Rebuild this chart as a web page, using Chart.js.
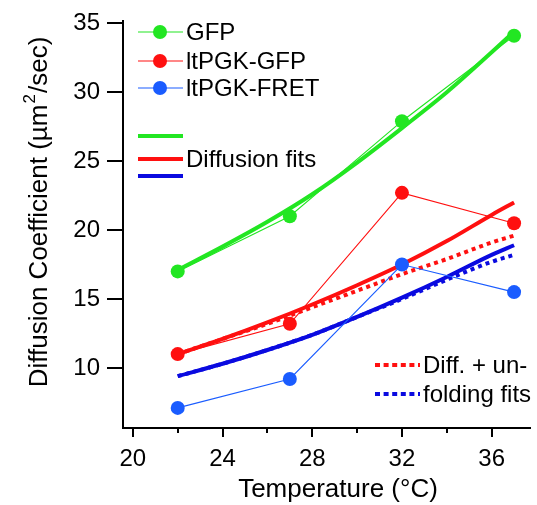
<!DOCTYPE html>
<html lang="en">
<head>
    <meta charset="UTF-8">
    <title>Diffusion coefficient vs temperature</title>
    <script src="https://cdn.jsdelivr.net/npm/chart.js"></script>
    <style>
        body { margin: 0; background: #fff; }
        canvas { display: block; }
    </style>
</head>
<body>
    <canvas id="diffChart" width="537" height="505"></canvas>

    <script>
        // measured points
        const temps = [22, 27, 32, 37];
        const gfp = [17.0, 21.0, 27.9, 34.1];
        const pgkGfp = [11.0, 13.2, 22.7, 20.5];
        const pgkFret = [7.1, 9.2, 17.5, 15.5];

        // fit curves
        const fitTemps = [22, 24, 26, 28, 30, 32, 34, 36, 37];
        const gfpFit = [17.1, 18.8, 20.6, 22.6, 24.9, 27.4, 30.0, 32.9, 34.4];
        const pgkGfpFit = [11.0, 12.1, 13.3, 14.6, 16.0, 17.5, 19.2, 21.1, 22.0];
        const pgkFretFit = [9.4, 10.3, 11.3, 12.4, 13.7, 15.1, 16.6, 18.2, 18.9];
        const pgkGfpUnfold = [11.0, 12.1, 13.2, 14.4, 15.6, 16.8, 17.9, 19.1, 19.6];
        const pgkFretUnfold = [9.4, 10.3, 11.3, 12.4, 13.7, 15.0, 16.4, 17.7, 18.2];

        const xTicks = [20, 24, 28, 32, 36];
        const xMinorTicks = [22, 26, 30, 34];
        const yTicks = [10, 15, 20, 25, 30, 35];

        const GREEN = '#22e622';
        const RED = '#ff1010';
        const BLUE_PT = '#1a5cff';
        const BLUE_FIT = '#0a0ae0';
        const FONT = '"Liberation Sans", Arial, sans-serif';

        function pts(xs, ys) {
            return xs.map((x, i) => ({ x: x, y: ys[i] }));
        }

        function dataSet(label, ys, color) {
            return {
                label: label,
                data: pts(temps, ys),
                borderColor: color,
                backgroundColor: color,
                borderWidth: 1.1,
                pointRadius: 7,
                pointBorderWidth: 0,
                order: 0
            };
        }

        function fitSet(label, ys, color, dashed) {
            return {
                label: label,
                data: pts(fitTemps, ys),
                borderColor: color,
                borderWidth: 4,
                borderDash: dashed ? [4, 4] : [],
                pointRadius: 0,
                cubicInterpolationMode: 'monotone',
                order: dashed ? 1 : 2
            };
        }

        // extra drawing: minor ticks, axis titles, legends
        const decorations = {
            id: 'decorations',
            afterDraw(chart) {
                const ctx = chart.ctx;
                const x = chart.scales.x;
                const area = chart.chartArea;
                ctx.save();

                // minor x ticks
                ctx.strokeStyle = '#000';
                ctx.lineWidth = 2;
                xMinorTicks.forEach(v => {
                    const px = Math.round(x.getPixelForValue(v));
                    ctx.beginPath();
                    ctx.moveTo(px, area.bottom);
                    ctx.lineTo(px, area.bottom + 5);
                    ctx.stroke();
                });

                // x title
                ctx.fillStyle = '#000';
                ctx.font = '26px ' + FONT;
                ctx.textAlign = 'center';
                ctx.textBaseline = 'alphabetic';
                ctx.fillText('Temperature (°C)', 338, 497);

                // y title with superscript
                ctx.translate(47, 212);
                ctx.rotate(-Math.PI / 2);
                const p1 = 'Diffusion Coefficient (µm';
                const p3 = '/sec)';
                ctx.font = '26px ' + FONT;
                const w1 = ctx.measureText(p1).width;
                const w3 = ctx.measureText(p3).width;
                ctx.font = '17px ' + FONT;
                const w2 = ctx.measureText('2').width;
                let sx = -(w1 + w2 + w3 + 2) / 2;
                ctx.textAlign = 'left';
                ctx.font = '26px ' + FONT;
                ctx.fillText(p1, sx, 0);
                sx += w1 + 1;
                ctx.font = '17px ' + FONT;
                ctx.fillText('2', sx, -12);
                sx += w2 + 1;
                ctx.font = '26px ' + FONT;
                ctx.fillText(p3, sx, 0);
                ctx.restore();

                ctx.save();
                ctx.textAlign = 'left';
                ctx.textBaseline = 'middle';
                ctx.font = '24px ' + FONT;
                ctx.fillStyle = '#000';

                // data legend
                [['GFP', GREEN, 32], ['ltPGK-GFP', RED, 61], ['ltPGK-FRET', BLUE_PT, 88]].forEach(r => {
                    ctx.strokeStyle = r[1];
                    ctx.lineWidth = 1.1;
                    ctx.beginPath();
                    ctx.moveTo(138, r[2]);
                    ctx.lineTo(183, r[2]);
                    ctx.stroke();
                    ctx.fillStyle = r[1];
                    ctx.beginPath();
                    ctx.arc(160, r[2], 7, 0, Math.PI * 2);
                    ctx.fill();
                    ctx.fillStyle = '#000';
                    ctx.fillText(r[0], 186, r[2] + 1);
                });

                // fit legend
                [[GREEN, 136], [RED, 159], [BLUE_FIT, 176]].forEach(r => {
                    ctx.strokeStyle = r[0];
                    ctx.lineWidth = 4;
                    ctx.beginPath();
                    ctx.moveTo(138, r[1]);
                    ctx.lineTo(183, r[1]);
                    ctx.stroke();
                });
                ctx.fillText('Diffusion fits', 186, 160);

                // unfolding legend
                ctx.setLineDash([5, 3.6]);
                [[RED, 365], [BLUE_FIT, 394]].forEach(r => {
                    ctx.strokeStyle = r[0];
                    ctx.lineWidth = 4;
                    ctx.beginPath();
                    ctx.moveTo(375, r[1]);
                    ctx.lineTo(420, r[1]);
                    ctx.stroke();
                });
                ctx.setLineDash([]);
                ctx.fillText('Diff. + un-', 423, 366);
                ctx.fillText('folding fits', 423, 395);
                ctx.restore();
            }
        };

        window.onload = function() {
            const ctx = document.getElementById('diffChart').getContext('2d');
            new Chart(ctx, {
                type: 'line',
                data: {
                    datasets: [
                        dataSet('GFP', gfp, GREEN),
                        dataSet('ltPGK-GFP', pgkGfp, RED),
                        dataSet('ltPGK-FRET', pgkFret, BLUE_PT),
                        fitSet('GFP fit', gfpFit, GREEN, false),
                        fitSet('ltPGK-GFP fit', pgkGfpFit, RED, false),
                        fitSet('ltPGK-FRET fit', pgkFretFit, BLUE_FIT, false),
                        fitSet('ltPGK-GFP unfolding fit', pgkGfpUnfold, RED, true),
                        fitSet('ltPGK-FRET unfolding fit', pgkFretUnfold, BLUE_FIT, true)
                    ]
                },
                options: {
                    responsive: false,
                    animation: false,
                    layout: { padding: { top: 15, left: 0, right: 0, bottom: 0 } },
                    plugins: {
                        legend: { display: false },
                        tooltip: { enabled: false }
                    },
                    scales: {
                        x: {
                            type: 'linear',
                            min: 19.56,
                            max: 37.71,
                            afterFit: s => { s.height = 77; },
                            afterBuildTicks: s => { s.ticks = xTicks.map(v => ({ value: v })); },
                            border: { color: '#000', width: 2 },
                            grid: { drawOnChartArea: false, color: '#000', lineWidth: 2, tickLength: 9 },
                            ticks: { color: '#000', font: { size: 24, family: FONT }, padding: 8, maxRotation: 0 }
                        },
                        y: {
                            min: 5.64,
                            max: 35.14,
                            afterFit: s => { s.width = 123; },
                            afterBuildTicks: s => { s.ticks = yTicks.map(v => ({ value: v })); },
                            border: { color: '#000', width: 2 },
                            grid: { drawOnChartArea: false, color: '#000', lineWidth: 2, tickLength: 16 },
                            ticks: { color: '#000', font: { size: 24, family: FONT }, padding: 7 }
                        }
                    }
                },
                plugins: [decorations]
            });
        };
    </script>
</body>
</html>
